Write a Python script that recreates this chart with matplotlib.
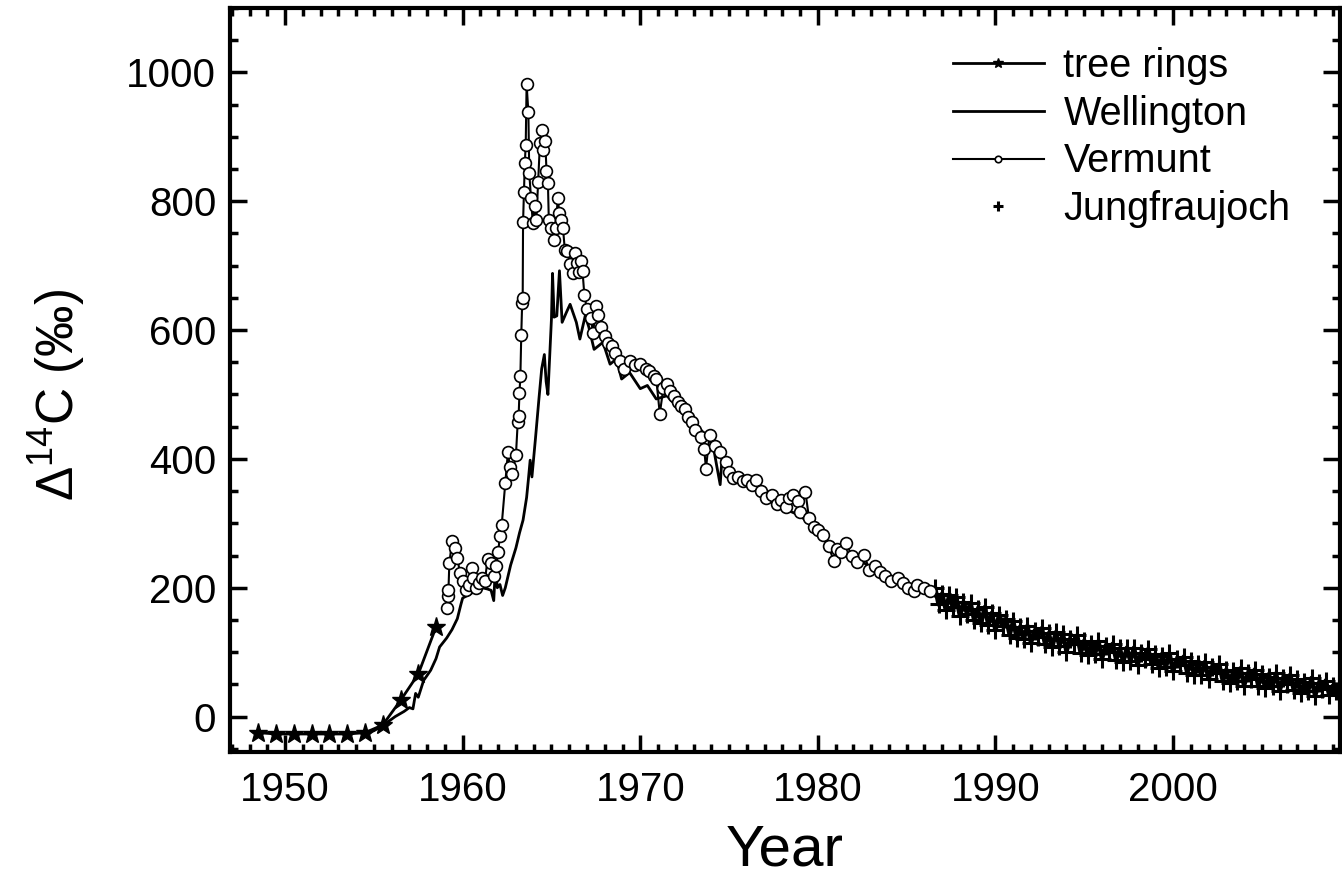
import numpy as np
import matplotlib
matplotlib.use('Agg')
import matplotlib.pyplot as plt
from matplotlib.ticker import MultipleLocator

plt.rcParams['font.family'] = ['Liberation Sans', 'DejaVu Sans']
plt.rcParams['mathtext.fontset'] = 'custom'
plt.rcParams['mathtext.rm'] = 'Liberation Sans'

## tree rings
tree_year = [1948.5, 1949.5, 1950.5, 1951.5, 1952.5, 1953.5, 1954.5, 1955.5, 1956.5, 1957.5, 1958.5]
tree_d14c = [-25, -27, -27, -27, -27, -27, -25, -13, 25, 66, 139]

## Wellington
well_year = [1954.5, 1955.0, 1955.5, 1955.8, 1956.2, 1956.7, 1957.0, 1957.2, 1957.35, 1957.5,
             1957.8, 1958.2, 1958.5, 1958.7, 1959.1, 1959.4, 1959.7, 1959.9, 1960.0, 1960.4,
             1960.7, 1961.1, 1961.4, 1961.6, 1961.75, 1961.85, 1961.95, 1962.1, 1962.25, 1962.4,
             1962.7, 1963.0, 1963.2, 1963.4, 1963.6, 1963.7, 1963.8, 1963.9, 1964.1, 1964.3,
             1964.45, 1964.6, 1964.7, 1964.8, 1965.0, 1965.06, 1965.15, 1965.3, 1965.45, 1965.6,
             1965.85, 1966.05, 1966.4, 1966.6, 1966.9, 1967.1, 1967.4, 1967.9, 1968.3, 1968.65,
             1968.95, 1969.4, 1970.0, 1970.4, 1970.9, 1971.5, 1972.0, 1972.6, 1973.15, 1973.7,
             1974.1, 1974.3, 1974.5, 1974.6, 1974.85, 1975.2, 1975.6, 1976.0, 1976.5, 1977.0,
             1977.5, 1978.0, 1978.5, 1979.0, 1979.5, 1980.0, 1980.5, 1981.0, 1981.5, 1982.0,
             1982.5, 1983.0, 1983.3]
well_d14c = [-25, -22, -14, -8, 0, 8, 14, 12, 36, 30,
             56, 72, 90, 108, 122, 135, 152, 174, 184, 190,
             195, 200, 198, 196, 180, 235, 200, 205, 188, 200,
             235, 262, 285, 305, 340, 368, 398, 372, 432, 495,
             540, 562, 520, 500, 618, 688, 620, 622, 692, 612,
             628, 640, 612, 586, 622, 605, 570, 581, 547, 555,
             524, 534, 509, 514, 493, 498, 483, 470, 452, 437,
             421, 390, 360, 400, 390, 372, 368, 360, 352, 346,
             338, 326, 318, 312, 300, 285, 272, 262, 255, 246,
             240, 232, 226]

## Vermunt
verm_year = [1959.1, 1959.15, 1959.2, 1959.25, 1959.4, 1959.55, 1959.7, 1959.85, 1960.0, 1960.2,
             1960.35, 1960.5, 1960.6, 1960.75, 1960.9, 1961.1, 1961.25, 1961.4, 1961.6, 1961.75,
             1961.9, 1962.0, 1962.1, 1962.2, 1962.4, 1962.55, 1962.65, 1962.8, 1963.0, 1963.1,
             1963.15, 1963.2, 1963.25, 1963.3, 1963.35, 1963.38, 1963.4, 1963.45, 1963.5, 1963.55,
             1963.6, 1963.7, 1963.75, 1963.85, 1963.95, 1964.05, 1964.15, 1964.25, 1964.35, 1964.45,
             1964.55, 1964.65, 1964.72, 1964.8, 1964.85, 1965.0, 1965.15, 1965.25, 1965.35, 1965.45,
             1965.55, 1965.65, 1965.75, 1965.9, 1966.05, 1966.2, 1966.35, 1966.45, 1966.55, 1966.65,
             1966.75, 1966.85, 1967.0, 1967.2, 1967.35, 1967.5, 1967.6, 1967.8, 1968.0, 1968.2,
             1968.4, 1968.6, 1968.85, 1969.1, 1969.4, 1969.7, 1970.0, 1970.3, 1970.5, 1970.75,
             1970.9, 1971.1, 1971.3, 1971.5, 1971.7, 1971.9, 1972.1, 1972.3, 1972.5, 1972.7,
             1972.9, 1973.1, 1973.4, 1973.6, 1973.7, 1973.9, 1974.2, 1974.5, 1974.8, 1975.0,
             1975.2, 1975.5, 1975.8, 1976.0, 1976.3, 1976.5, 1976.8, 1977.1, 1977.4, 1977.7,
             1977.95, 1978.2, 1978.4, 1978.6, 1978.9, 1979.0, 1979.3, 1979.5, 1979.8, 1980.0,
             1980.3, 1980.6, 1980.9, 1981.1, 1981.3, 1981.6, 1981.9, 1982.2, 1982.6, 1982.9,
             1983.2, 1983.5, 1983.8, 1984.1, 1984.5, 1984.8, 1985.1, 1985.4, 1985.6, 1986.0,
             1986.3]
verm_d14c = [169, 187, 197, 238, 272, 262, 246, 223, 210, 197,
             205, 231, 215, 200, 207, 215, 210, 244, 238, 218,
             233, 256, 281, 298, 362, 411, 388, 377, 406, 457,
             467, 503, 529, 593, 642, 650, 767, 815, 860, 887,
             982, 938, 843, 805, 766, 792, 771, 830, 890, 911,
             880, 894, 847, 829, 771, 758, 740, 758, 805, 781,
             771, 758, 725, 722, 702, 689, 720, 704, 690, 707,
             691, 655, 632, 619, 596, 637, 624, 604, 591, 580,
             576, 565, 552, 540, 552, 545, 547, 540, 537, 528,
             524, 470, 510, 516, 505, 498, 488, 482, 478, 465,
             457, 445, 434, 415, 385, 437, 420, 411, 395, 380,
             370, 372, 365, 367, 359, 367, 350, 340, 344, 330,
             336, 325, 340, 344, 335, 318, 349, 308, 295, 290,
             282, 265, 241, 260, 255, 269, 250, 240, 251, 228,
             233, 225, 218, 210, 215, 207, 200, 195, 205, 200,
             195]

## Jungfraujoch
jfj_d14c = [200, 174, 191, 166, 188,
            170, 185, 156, 178, 160,
            176, 150, 167, 146, 170,
            142, 161, 134, 157, 140,
            152, 127, 148, 122, 139,
            121, 141, 115, 133, 124,
            137, 112, 129, 108, 131,
            110, 128, 101, 121, 112,
            126, 99, 118, 96, 113,
            97, 117, 90, 110, 100,
            113, 88, 106, 85, 107,
            86, 107, 80, 99, 90,
            105, 81, 97, 76, 94,
            77, 98, 70, 89, 80,
            93, 68, 86, 64, 82,
            65, 85, 58, 77, 68,
            81, 56, 73, 52, 71,
            55, 75, 48, 67, 58,
            73, 48, 66, 44, 62,
            47, 67, 40, 60, 51,
            65, 41, 58, 36, 54,
            39, 60, 32, 52, 43,
            56, 33, 48, 39]
jfj_year = np.linspace(1986.6, 2009.2, len(jfj_d14c))

fig = plt.figure(figsize=(13.42, 8.81), dpi=100)
ax = fig.add_axes([0.1714, 0.1464, 0.8271, 0.8446])

ax.plot(jfj_year, jfj_d14c, color='black', lw=3.2, zorder=2)
ax.plot(jfj_year, jfj_d14c, ls='none', marker='+', ms=13, mew=2.2, color='black',
        label='Jungfraujoch', zorder=2)
ax.plot(well_year, well_d14c, color='black', lw=2.0, label='Wellington', zorder=3)
ax.plot(verm_year, verm_d14c, color='black', lw=1.5, marker='o', ms=8.5,
        mfc='white', mec='black', mew=1.2, label='Vermunt', zorder=4)
ax.plot(tree_year, tree_d14c, color='black', lw=2.0, marker='*', ms=14,
        label='tree rings', zorder=5)

ax.set_xlim(1946.9, 2009.4)
ax.set_ylim(-55, 1100)
ax.xaxis.set_major_locator(MultipleLocator(10))
ax.xaxis.set_minor_locator(MultipleLocator(1))
ax.yaxis.set_major_locator(MultipleLocator(200))
ax.yaxis.set_minor_locator(MultipleLocator(50))
ax.tick_params(which='both', direction='in', top=True, right=True, width=2.5)
ax.tick_params(which='major', length=12, labelsize=29)
ax.tick_params(axis='x', which='major', pad=14)
ax.tick_params(axis='y', which='major', pad=10)
ax.tick_params(which='minor', length=6)
for s in ax.spines.values():
    s.set_linewidth(3)

ax.set_xlabel('Year', fontsize=42, labelpad=10)
ax.set_ylabel('$\\Delta^{14}$C (‰)', fontsize=37)
ax.yaxis.set_label_coords(-0.128, 0.48)

h, l = ax.get_legend_handles_labels()
order = [3, 1, 2, 0]
ax.legend([h[i] for i in order], [l[i] for i in order], loc='upper left',
          bbox_to_anchor=(0.651, 0.948), frameon=False, fontsize=28.5, markerscale=0.55,
          handlelength=2.3, handletextpad=0.5, labelspacing=0.25, borderpad=0,
          borderaxespad=0)

plt.savefig('out.png', dpi=100)
